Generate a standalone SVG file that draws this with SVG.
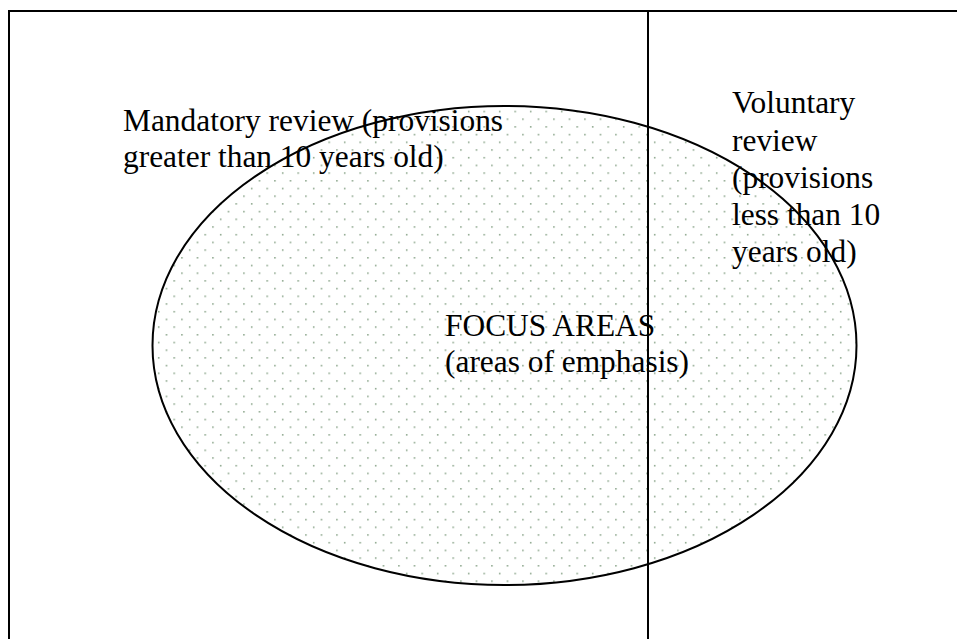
<svg xmlns="http://www.w3.org/2000/svg" width="957" height="639" viewBox="0 0 957 639">
<style>
.t{font-family:"Liberation Serif","Times New Roman",serif;font-size:31.4px;fill:#000}
.ln{stroke:#000;stroke-width:2;fill:none}
</style>
<defs>
<pattern id="dots" x="0" y="0" width="15.5" height="15.4" patternUnits="userSpaceOnUse">
<rect x="3" y="3" width="1.4" height="1.4" fill="#6f8f6f"/>
<rect x="10.75" y="10.7" width="1.4" height="1.4" fill="#6f8f6f"/>
</pattern>
</defs>
<rect width="957" height="639" fill="#fff"/>
<g id="frame">
<path class="ln" d="M9 640 V11 H957"/>
</g>
<g id="focus-areas">
<ellipse cx="504.5" cy="345.5" rx="352" ry="239.5" fill="url(#dots)" stroke="#000" stroke-width="2"/>
<text class="t" x="445" y="336">FOCUS AREAS</text>
<text class="t" x="445" y="372">(areas of emphasis)</text>
</g>
<g id="connectors">
<line class="ln" x1="648" y1="11" x2="648" y2="640"/>
</g>
<g id="mandatory">
<text class="t" x="123" y="131">Mandatory review (provisions</text>
<text class="t" x="123" y="167">greater than 10 years old)</text>
</g>
<g id="voluntary">
<text class="t" x="732" y="113">Voluntary</text>
<text class="t" x="732" y="150.5">review</text>
<text class="t" x="732" y="188">(provisions</text>
<text class="t" x="732" y="225">less than 10</text>
<text class="t" x="732" y="262">years old)</text>
</g>
</svg>
